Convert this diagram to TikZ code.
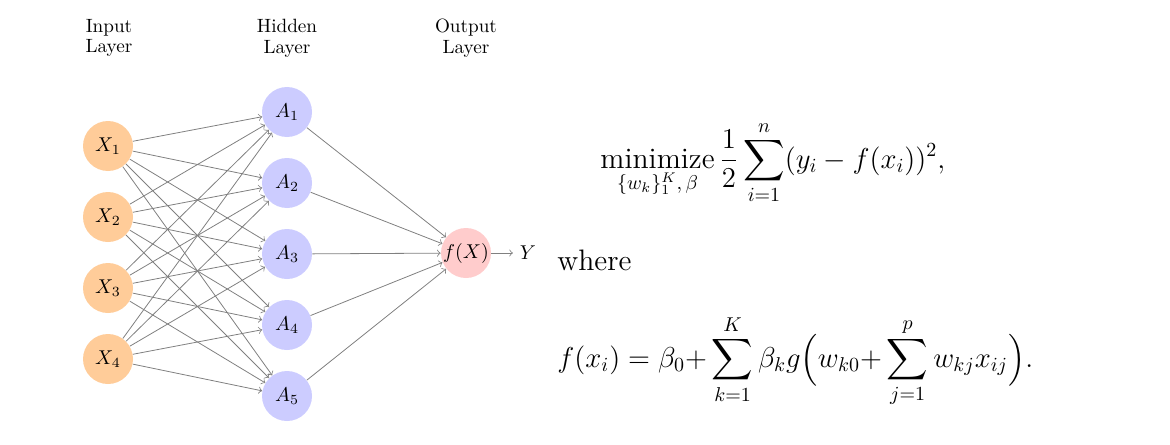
\documentclass[tikz,border=0pt]{standalone}
\usepackage{amsmath}
\tikzset{
  neuron/.style={circle,minimum size=25pt,inner sep=0pt},
  innode/.style={neuron,fill=orange!40},
  hidnode/.style={neuron,fill=blue!20},
  outnode/.style={neuron,fill=red!20},
  link/.style={->,gray,thin},
  layertag/.style={font=\fontsize{9.6}{10.4}\selectfont,align=center},
  formula/.style={anchor=base west,inner sep=0pt,font=\fontsize{14.8}{18}\selectfont}
}
\begin{document}
\begin{tikzpicture}[x=0.5pt,y=-0.5pt]
\useasboundingbox (0,0) rectangle (1170,444);
% layer titles
\node[layertag] (tin) at (109,38) {Input\\Layer};
\node[layertag] (thid) at (287,38) {Hidden\\Layer};
\node[layertag] (tout) at (466,38) {Output\\Layer};
% neurons
\foreach \i in {1,...,4}
  \node[innode] (X\i) at (108,{146+71*(\i-1)}) {$X_{\i}$};
\foreach \j in {1,...,5}
  \node[hidnode] (A\j) at (287,{112+71*(\j-1)}) {$A_{\j}$};
\node[outnode] (f) at (466,253) {$f(X)$};
\node (y) at (528,253) {$Y$};
% connections
\foreach \i in {1,...,4}
  \foreach \j in {1,...,5}
    \draw[link] (X\i) -- (A\j);
\foreach \j in {1,...,5}
  \draw[link] (A\j) -- (f);
\draw[link] (f) -- (y);
% objective and model
\node[formula] (obj) at (600,168)
  {$\displaystyle \underset{\{w_k\}_1^K,\,\beta}{\text{minimize}}\,\frac{1}{2}\sum_{i=1}^{n}(y_i-f(x_i))^2,$};
\node[formula] (wh) at (557,270) {where};
\node[formula] (model) at (557,367)
  {$\displaystyle f(x_i)=\beta_0{+}\sum_{k=1}^{K}\beta_k g\Big(w_{k0}{+}\sum_{j=1}^{p}w_{kj}x_{ij}\Big).$};
\end{tikzpicture}
\end{document}
